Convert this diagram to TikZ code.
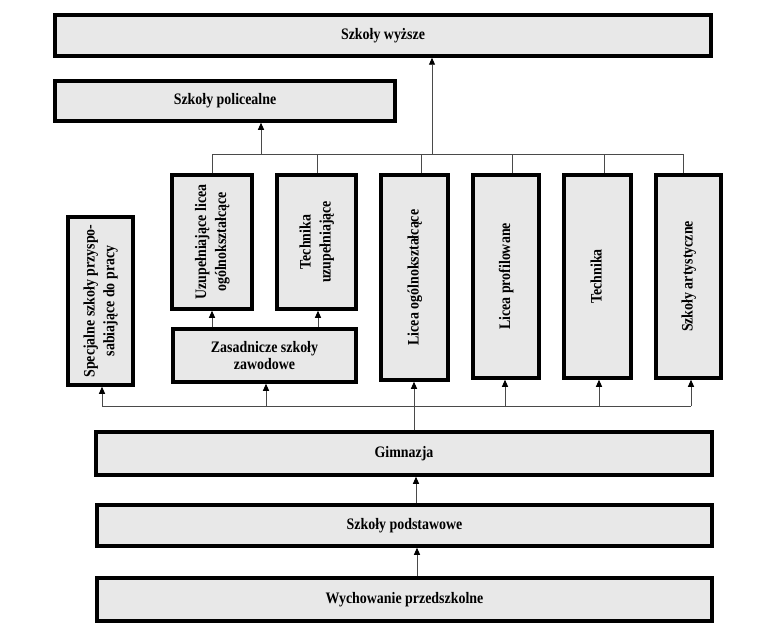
\documentclass[tikz,border=0pt]{standalone}
\usepackage{fontspec}
\setmainfont{Liberation Serif}[FakeStretch=0.87]
\usepackage{graphicx}
\usetikzlibrary{arrows.meta}
\definecolor{boxfill}{HTML}{E8E8E8}
\definecolor{linec}{HTML}{4A4A4A}
\tikzset{
  box/.style={draw=black, line width=3.5pt, fill=boxfill, inner sep=2pt,
    font=\fontsize{16}{17}\selectfont\bfseries, align=center},
  conn/.style={draw=linec, line width=0.9pt},
  arr/.style={conn, -{Triangle[length=7pt,width=6pt,color=black]}},
}
\newcommand{\vtext}[1]{\rotatebox{90}{\fontsize{16}{20}\selectfont\bfseries\begin{tabular}{@{}c@{}}#1\end{tabular}}}
\newcommand{\schoolbox}[6]{%
  \node[box, minimum width={(#4-#2)*1pt}, minimum height={(#5-#3)*1pt}]
    (#1) at ({(#2+#4)/2},{-(#3+#5)/2}) {#6};}
\begin{document}
\begin{tikzpicture}[x=1pt,y=1pt]
\path[use as bounding box, fill=white] (0,0) rectangle (768,-634);

\schoolbox{wyz}{55}{15}{711}{56}{Szkoły wyższe}
\schoolbox{pol}{55}{81}{395}{121}{Szkoły policealne}
\schoolbox{uzu}{172}{175}{252}{309}{\vtext{Uzupełniające licea\\ogólnokształcące}}
\schoolbox{tu}{277}{175}{356}{309}{\vtext{Technika\\uzupełniające}}
\schoolbox{lo}{381}{175}{448}{380}{\vtext{Licea ogólnokształcące}}
\schoolbox{lp}{473}{175}{539}{378}{\vtext{Licea profilowane}}
\schoolbox{tech}{564}{175}{631}{378}{\vtext{Technika}}
\schoolbox{art}{656}{175}{721}{378}{\vtext{Szkoły artystyczne}}
\schoolbox{spec}{68}{217}{133}{385}{\vtext{Specjalne szkoły przyspo-\\sabiające do pracy}}
\schoolbox{zas}{173}{329}{356}{382}{Zasadnicze szkoły\\zawodowe}
\schoolbox{gim}{96}{432}{712}{475}{Gimnazja}
\schoolbox{pod}{97}{505}{712}{546}{Szkoły podstawowe}
\schoolbox{wych}{97}{578}{712}{621}{Wychowanie przedszkolne}

% top bus
\coordinate (t1) at (212,-154);
\coordinate (t2) at (317,-154);
\coordinate (t3) at (421,-154);
\coordinate (t4) at (512,-154);
\coordinate (t5) at (604,-154);
\coordinate (t6) at (683,-154);
\coordinate (tw) at (432,-154);
\coordinate (tp) at (261,-154);
\draw[conn] (t1 |- uzu.north) -- (t1) -- (t6) -- (t6 |- art.north);
\draw[conn] (t2) -- (t2 |- tu.north);
\draw[conn] (t3) -- (t3 |- lo.north);
\draw[conn] (t4) -- (t4 |- lp.north);
\draw[conn] (t5) -- (t5 |- tech.north);
\draw[arr] (tw) -- (tw |- wyz.south);
\draw[arr] (tp) -- (tp |- pol.south);

% zasadnicze to upper boxes
\coordinate (z1) at (212,0);
\coordinate (z2) at (318,0);
\draw[arr] (z1 |- zas.north) -- (z1 |- uzu.south);
\draw[arr] (z2 |- zas.north) -- (z2 |- tu.south);

% bottom bus
\coordinate (b1) at (102,-406);
\coordinate (b2) at (266,-406);
\coordinate (b4) at (505,-406);
\coordinate (b5) at (599,-406);
\coordinate (b6) at (691,-406);
\draw[conn] (b1) -- (b6);
\draw[arr] (b1) -- (b1 |- spec.south);
\draw[arr] (b2) -- (b2 |- zas.south);
\draw[arr] (b4) -- (b4 |- lp.south);
\draw[arr] (b5) -- (b5 |- tech.south);
\draw[arr] (b6) -- (b6 |- art.south);
\coordinate (lx) at (414,0);
\draw[arr] (lx |- gim.north) -- (lx |- lo.south);

% lower chain
\coordinate (m1) at (416,0);
\coordinate (m2) at (417,0);
\draw[arr] (m1 |- pod.north) -- (m1 |- gim.south);
\draw[arr] (m2 |- wych.north) -- (m2 |- pod.south);
\end{tikzpicture}
\end{document}
